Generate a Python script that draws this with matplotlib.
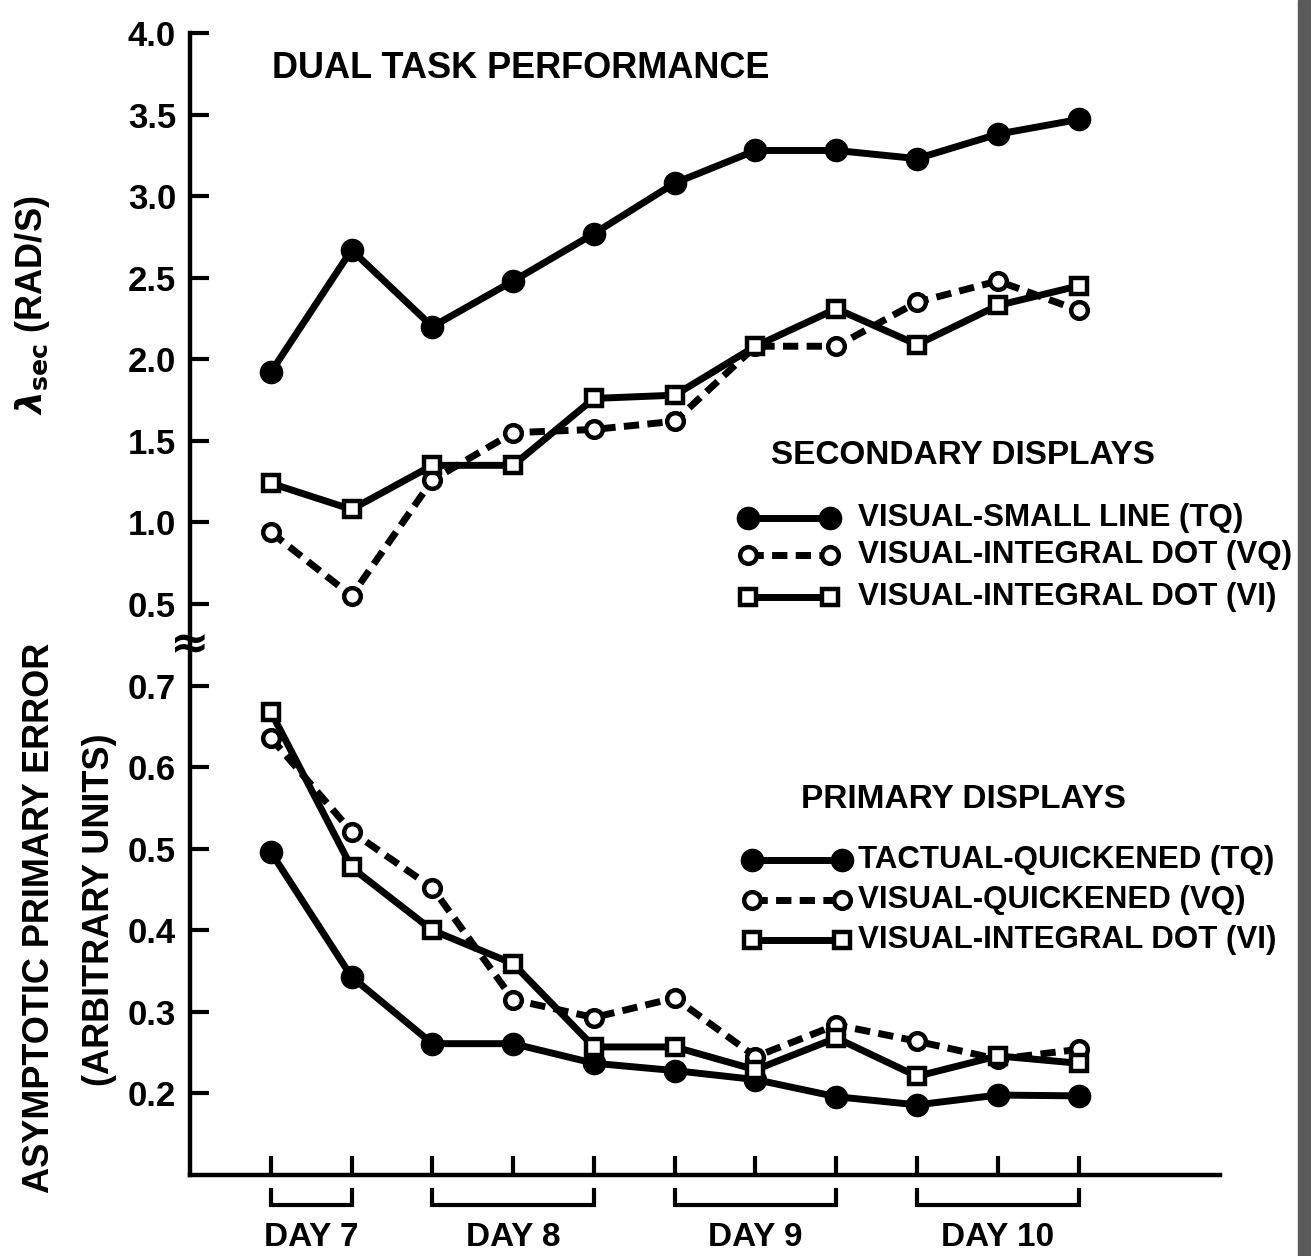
import numpy as np
import matplotlib
matplotlib.use("Agg")
import matplotlib.pyplot as plt
from matplotlib.patches import Rectangle

plt.rcParams["font.family"] = ["Liberation Sans", "DejaVu Sans"]
plt.rcParams["font.weight"] = "bold"

# sessions (x positions 1..11)
sessions = np.arange(1, 12)

# secondary task: lambda_sec (rad/s)
sec_tq = [1.92, 2.67, 2.20, 2.48, 2.77, 3.08, 3.28, 3.28, 3.23, 3.38, 3.47]
sec_vq = [0.94, 0.55, 1.26, 1.55, 1.57, 1.62, 2.08, 2.08, 2.35, 2.48, 2.30]
sec_vi = [1.24, 1.08, 1.35, 1.35, 1.76, 1.78, 2.08, 2.31, 2.09, 2.33, 2.45]

# primary task: asymptotic error (arbitrary units)
pri_tq = [0.496, 0.343, 0.261, 0.261, 0.237, 0.228, 0.217, 0.196, 0.186, 0.198, 0.197]
pri_vq = [0.636, 0.521, 0.452, 0.315, 0.293, 0.317, 0.245, 0.284, 0.264, 0.242, 0.254]
pri_vi = [0.668, 0.477, 0.400, 0.359, 0.257, 0.257, 0.229, 0.268, 0.221, 0.246, 0.237]

sec_ticks = [0.5, 1.0, 1.5, 2.0, 2.5, 3.0, 3.5, 4.0]
pri_ticks = [0.2, 0.3, 0.4, 0.5, 0.6, 0.7]

days = [("DAY 7", 1, 2), ("DAY 8", 3, 5), ("DAY 9", 6, 8), ("DAY 10", 9, 11)]

sec_labels = ["VISUAL-SMALL LINE (TQ)", "VISUAL-INTEGRAL DOT (VQ)", "VISUAL-INTEGRAL DOT (VI)"]
pri_labels = ["TACTUAL-QUICKENED (TQ)", "VISUAL-QUICKENED (VQ)", "VISUAL-INTEGRAL DOT (VI)"]


def lower(v):
    # primary error axis sits below the secondary one, 0.7 -> 0.0
    return (np.asarray(v) - 0.7) * 5.0


W, H = 1311, 1256
fig = plt.figure(figsize=(W / 100, H / 100), dpi=100)
ax = fig.add_axes([190 / W, (H - 1175) / H, 1030 / W, 1142 / H])

lw = 5.0
styles = [
    dict(color="black", ls="-", marker="o", ms=15, mfc="black", mew=2),
    dict(color="black", ls=(0, (2.2, 1.2)), marker="o", ms=12, mfc="white", mew=3.2),
    dict(color="black", ls="-", marker="s", ms=11.5, mfc="white", mew=3.2),
]

for ys, st in zip([sec_tq, sec_vq, sec_vi], styles):
    ax.plot(sessions, ys, lw=lw, **st)
for ys, st in zip([pri_tq, pri_vq, pri_vi], styles):
    ax.plot(sessions, lower(ys), lw=lw, **st)

ax.set_xlim(0, 12.75)
ax.set_ylim(-3.0, 4.0)

yt = list(lower(pri_ticks)) + sec_ticks
yl = ["%.1f" % v for v in pri_ticks] + ["%.1f" % v for v in sec_ticks]
ax.set_yticks(yt)
ax.set_yticklabels(yl, fontsize=25)
ax.set_xticks(sessions)
ax.set_xticklabels([])
ax.tick_params(direction="in", length=14, width=3, pad=10)

for s in ["top", "right"]:
    ax.spines[s].set_visible(False)
for s in ["left", "bottom"]:
    ax.spines[s].set_linewidth(3.2)

# axis break mark
ax.text(0, 0.25, "\u2248", transform=ax.get_yaxis_transform(), fontsize=34,
        ha="center", va="center", family="DejaVu Sans", fontweight="bold",
        clip_on=False, zorder=5)

# day brackets under the axis
xt = ax.get_xaxis_transform()
for name, a, b in days:
    ax.plot([a, a, b, b], [-0.013, -0.026, -0.026, -0.013], transform=xt,
            color="black", lw=3, clip_on=False, solid_joinstyle="miter")
    ax.text((a + b) / 2, -0.055, name, transform=xt, ha="center", va="center",
            fontsize=24, clip_on=False)


def ax_pt(px, py):
    return (px - 190) / 1030, (1175 - py) / 1142


ax.text(*ax_pt(272, 68), "DUAL TASK PERFORMANCE", transform=ax.transAxes,
        fontsize=26, ha="left", va="center")

# legends
def legend_block(title, tx, ty, rows, x0, x1, xtext, labels):
    ax.text(*ax_pt(tx, ty), title, transform=ax.transAxes, fontsize=24,
            ha="center", va="center", clip_on=False)
    for ry, lab, st in zip(rows, labels, styles):
        ax0, ay = ax_pt(x0, ry)
        ax1, _ = ax_pt(x1, ry)
        ax.plot([ax0, ax1], [ay, ay], transform=ax.transAxes, lw=lw,
                clip_on=False, **st)
        ax.text(ax_pt(xtext, ry)[0], ay, lab, transform=ax.transAxes,
                fontsize=22.5, ha="left", va="center", clip_on=False)


legend_block("SECONDARY DISPLAYS", 963, 455, [518, 555, 597], 748, 830, 858, sec_labels)
legend_block("PRIMARY DISPLAYS", 963, 800, [860, 900, 940], 752, 842, 858, pri_labels)

fig.text(33 / W, 1 - 305 / H, r"$\lambda_{\mathbf{sec}}$ (RAD/S)", rotation=90,
         fontsize=26, ha="center", va="center")
fig.text(40 / W, 1 - 918 / H, "ASYMPTOTIC PRIMARY ERROR", rotation=90,
         fontsize=26, ha="center", va="center")
fig.text(100 / W, 1 - 910 / H, "(ARBITRARY UNITS)", rotation=90,
         fontsize=26, ha="center", va="center")

# dark binding edge of the scanned page
fig.patches.append(Rectangle((1298 / W, 0), 13 / W, 1, transform=fig.transFigure,
                             color="#5a5a5a", zorder=10))

fig.savefig("out.png", dpi=100)
